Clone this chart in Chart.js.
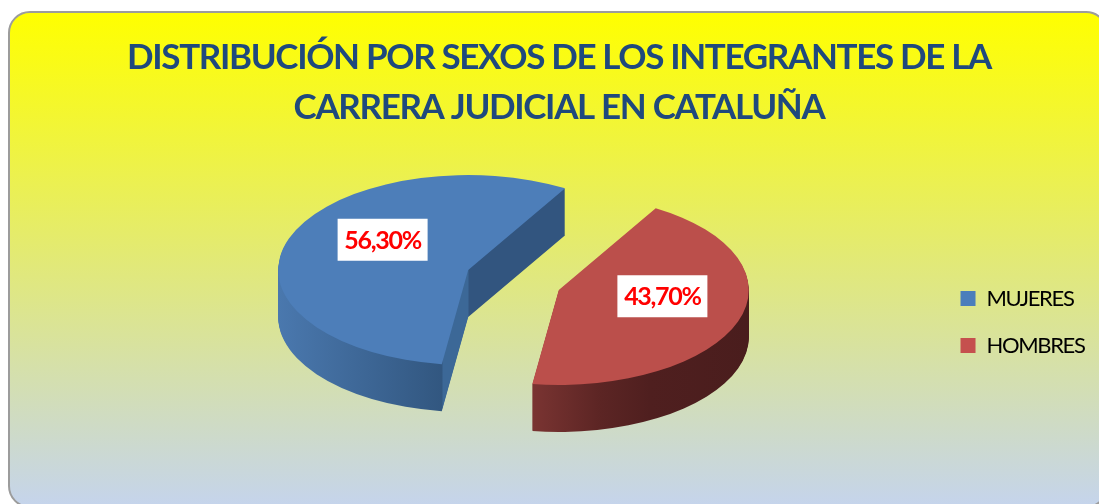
<!DOCTYPE html>
<html lang="es">
<head>
<meta charset="utf-8">
<title>Distribución por sexos</title>
<script src="https://cdn.jsdelivr.net/npm/chart.js@4"></script>
<style>
  html, body { margin: 0; padding: 0; background: #fff; overflow: hidden; }
  #stage { position: relative; width: 1099px; height: 504px; overflow: hidden; }
  #card {
    position: absolute; left: 8px; top: 11px; width: 1096px; height: 493px;
    border: 2px solid #9c9c9c; border-radius: 22px;
    background: linear-gradient(to bottom, #ffff00 0%, #c5d4ec 100%);
  }
  canvas { position: absolute; left: 0; top: 0; }
</style>
</head>
<body>
<div id="stage">
  <div id="card"></div>
  <canvas id="pie" width="1099" height="504"></canvas>
</div>
<script>
// Data
const titleLines = ["DISTRIBUCIÓN POR SEXOS DE LOS INTEGRANTES DE LA", "CARRERA JUDICIAL EN CATALUÑA"];
const categories = ["MUJERES", "HOMBRES"];
const shares = [56.3, 43.7];
const sliceColors = ["#4d7eb9", "#bb4f4b"];
const legendColors = ["#4a7ebb", "#c5504e"];

// Side walls: colour depends only on x, so the cut faces get their own tone
const sideStops = [
  [[278, "#4a78ae"], [442, "#325780"], [443, "#3c6897"], [468, "#3c6897"], [469, "#32557f"], [566, "#32557f"]],
  [[532, "#7a3432"], [600, "#5c2524"], [650, "#4f1f1f"], [749, "#4a1d1d"]],
];

// Fake 3D settings
const view = { cx: 513.5, cy: 278, squash: 0.5, depth: 47, explode: 48 };
const sliceDrop = [0, 4];
const labelNudge = [[13, -13], [5, -7]];

function sideFill(ctx, stops, shift) {
  const first = stops[0][0] - shift;
  const last = stops[stops.length - 1][0] - shift;
  const g = ctx.createLinearGradient(first, 0, last, 0);
  stops.forEach(([x, c]) => g.addColorStop((x - shift - first) / (last - first), c));
  return g;
}

// Draws the library's arcs squashed into an ellipse, with a stack of copies as the wall
const pie3d = {
  id: "pie3d",
  beforeDraw(chart) {
    chart.ctx.letterSpacing = "-1.35px";
  },
  beforeDatasetsDraw(chart) {
    const ctx = chart.ctx;
    const arcs = chart.getDatasetMeta(0).data;
    arcs.forEach((arc, i) => {
      const mid = (arc.startAngle + arc.endAngle) / 2;
      const px = view.cx + Math.cos(mid) * view.explode;
      const py = view.cy + Math.sin(mid) * view.explode * view.squash + sliceDrop[i];
      const place = (down) => {
        ctx.save();
        ctx.translate(px, py + down);
        ctx.scale(1, view.squash);
        ctx.translate(-arc.x, -arc.y);
      };
      // gradient coordinates follow the transform, so shift them back to screen x
      const wall = Object.create(arc);
      wall.options = Object.assign({}, arc.options, {
        backgroundColor: sideFill(ctx, sideStops[i], px - arc.x),
      });
      for (let d = view.depth; d > 0; d--) {
        place(d);
        wall.draw(ctx);
        ctx.restore();
      }
      place(0);
      arc.draw(ctx);
      ctx.restore();
    });
    return false;
  },
  afterDraw(chart) {
    const ctx = chart.ctx;
    const arcs = chart.getDatasetMeta(0).data;
    arcs.forEach((arc, i) => {
      const mid = (arc.startAngle + arc.endAngle) / 2;
      const r = view.explode + arc.outerRadius * 0.55;
      const x = view.cx + Math.cos(mid) * r + labelNudge[i][0];
      const y = view.cy + Math.sin(mid) * r * view.squash + labelNudge[i][1];
      ctx.save();
      ctx.fillStyle = "#fff";
      ctx.fillRect(x - 45, y - 21, 90, 42);
      ctx.fillStyle = "#ff0000";
      ctx.font = "bold 25px Lato";
      ctx.letterSpacing = "-1.3px";
      ctx.textAlign = "center";
      ctx.textBaseline = "middle";
      ctx.fillText(shares[i].toFixed(2).replace(".", ",") + "%", x, y + 1);
      ctx.restore();
    });
  },
};

new Chart(document.getElementById("pie"), {
  type: "pie",
  data: {
    labels: categories,
    datasets: [{
      data: shares,
      backgroundColor: sliceColors,
      borderWidth: 0,
      radius: 190,
    }],
  },
  options: {
    responsive: false,
    animation: false,
    rotation: 188,
    layout: { padding: { left: 14, right: -5, top: 0, bottom: 0 } },
    plugins: {
      tooltip: { enabled: false },
      title: {
        display: true,
        text: titleLines,
        color: "#1f497d",
        font: { family: "Lato", weight: "bold", size: 35, lineHeight: "49.5px" },
        padding: { top: 33, bottom: 8 },
      },
      legend: {
        position: "right",
        fullSize: false,
        labels: {
          color: "#111",
          font: { family: "Lato", size: 22 },
          boxWidth: 15,
          boxHeight: 15,
          padding: 25,
          generateLabels: () => categories.map((name, i) => ({
            text: name,
            fillStyle: legendColors[i],
            strokeStyle: legendColors[i],
            lineWidth: 0,
            index: i,
          })),
        },
      },
    },
  },
  plugins: [pie3d],
});
</script>
</body>
</html>
